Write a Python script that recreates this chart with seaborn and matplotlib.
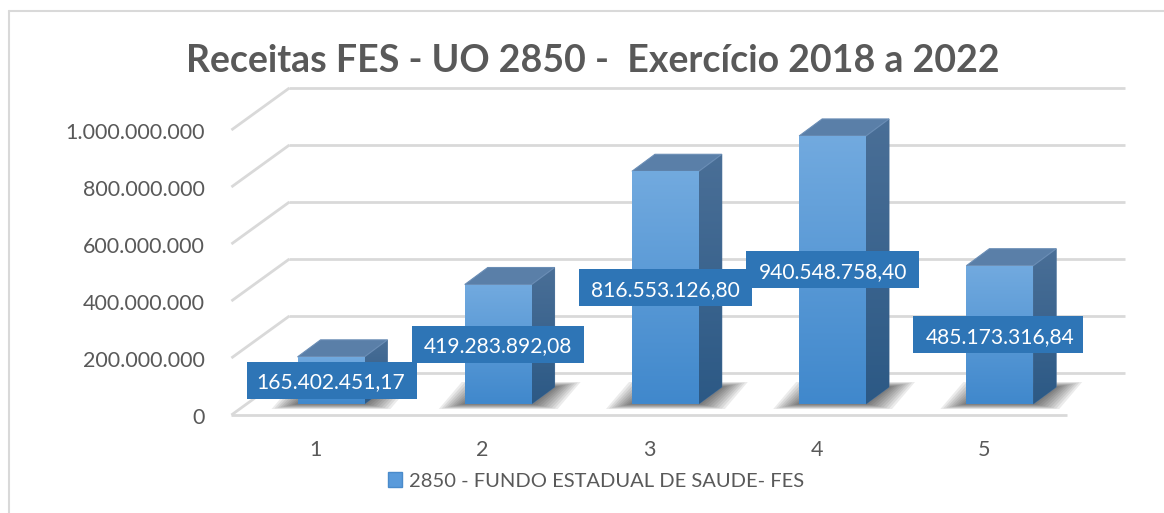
import numpy as np
import pandas as pd
import matplotlib
matplotlib.use("Agg")
import matplotlib.pyplot as plt
import matplotlib.transforms as mtransforms
from matplotlib.patches import Polygon, Patch, Rectangle
from matplotlib.lines import Line2D
from matplotlib.colors import LinearSegmentedColormap
import seaborn as sns

# ---------------- data ----------------
title = "Receitas FES - UO 2850 -  Exercício 2018 a 2022"
series_name = "2850 - FUNDO ESTADUAL DE SAUDE- FES"
categories = ["1", "2", "3", "4", "5"]
values = [165402451.17, 419283892.08, 816553126.80, 940548758.40, 485173316.84]
value_labels = ["165.402.451,17", "419.283.892,08", "816.553.126,80",
                "940.548.758,40", "485.173.316,84"]
y_ticks = [0, 200e6, 400e6, 600e6, 800e6, 1000e6]
y_tick_labels = ["0", "200.000.000", "400.000.000", "600.000.000",
                 "800.000.000", "1.000.000.000"]

# ---------------- style ----------------
W, H, DPI = 1164, 513, 100
sns.set_theme(style="white")
plt.rcParams['font.family'] = ['Lato', 'DejaVu Sans']
TXT = "#595959"
GRID = "#D9D9D9"
LABEL_BG = "#2E75B6"

fig = plt.figure(figsize=(W / DPI, H / DPI), dpi=DPI)
fig.patch.set_facecolor("white")
ax = fig.add_axes([247.4 / W, (H - 404) / H, 836 / W, 285 / H])

df = pd.DataFrame({"cat": categories, "val": values})
sns.barplot(data=df, x="cat", y="val", order=categories, color="#5B9BD5",
            saturation=1, width=0.4, ax=ax, edgecolor="none", linewidth=0)
ax.set_xlim(-0.5, 4.5)
ax.set_ylim(0, 1e9)
ax.axis("off")
if ax.get_legend() is not None:
    ax.get_legend().remove()

renderer = fig.canvas.get_renderer()


def px2data(dx_px, dy_px):
    o = ax.transData.transform((0, 0))
    ux = ax.transData.transform((1, 0))[0] - o[0]
    uy = ax.transData.transform((0, 1))[1] - o[1]
    return dx_px / ux, dy_px / uy


fdx, fdy = px2data(-16, -11)   # front plane of floor
bdx, bdy = px2data(42, 31)     # back wall
ddx, ddy = px2data(23, 17)     # depth of a bar

# ---------------- walls / gridlines ----------------
for v in y_ticks:
    ax.plot([-0.5 + bdx, 4.5 + bdx], [v + bdy, v + bdy], color=GRID, lw=2,
            zorder=0.5, clip_on=False, solid_capstyle="butt")
    ax.plot([-0.5 + fdx, -0.5 + bdx], [v + fdy, v + bdy], color=GRID, lw=2,
            zorder=0.5, clip_on=False, solid_capstyle="butt")
ax.plot([-0.5 + fdx, 4.5 + fdx], [fdy, fdy], color=GRID, lw=2,
        zorder=0.5, clip_on=False, solid_capstyle="butt")

# tick labels
tx, tdy = px2data(-27, -2.5)
for v, lab in zip(y_ticks, y_tick_labels):
    ax.text(-0.5 + fdx + tx, v + fdy + tdy, lab, ha="right", va="center",
            color=TXT, fontsize=15.5, clip_on=False)

# category labels
_, cy = px2data(0, -35)
for i, c in enumerate(categories):
    ax.text(i + fdx, fdy + cy, c, ha="center", va="center", color=TXT,
            fontsize=15.5, clip_on=False)

# ---------------- 3D bars ----------------
front_cmap = LinearSegmentedColormap.from_list("f", ["#4088CC", "#72AADF"])
side_cmap = LinearSegmentedColormap.from_list("s", ["#2C5985", "#4A6F97"])
grad = np.linspace(0, 1, 256).reshape(-1, 1)

bars = list(ax.patches)
for p in bars:
    x0 = p.get_x()
    x1 = x0 + p.get_width()
    h = p.get_height()
    # shadow
    for k in range(9):
        ex, ey = px2data(26 * (1 - k / 9), 5 * (1 - k / 9))
        shp = Polygon([(x0 - ex, -ey), (x1 + ex, -ey),
                       (x1 + ddx + ex, ddy + ey), (x0 + ddx - ex, ddy + ey)],
                      closed=True, facecolor="#1E1E1E", edgecolor="none",
                      alpha=0.085, zorder=0.8, clip_on=False)
        ax.add_patch(shp)
    # side face
    side = Polygon([(x1, 0), (x1 + ddx, ddy), (x1 + ddx, h + ddy), (x1, h)],
                   closed=True, facecolor="#3A6590", edgecolor="#4D739B",
                   lw=0.6, zorder=2.5, clip_on=False)
    ax.add_patch(side)
    im = ax.imshow(grad, cmap=side_cmap, origin="lower", aspect="auto",
                   extent=(x1, x1 + ddx, 0, h + ddy), zorder=2.6,
                   interpolation="bilinear")
    im.set_clip_path(side)
    # top face
    top = Polygon([(x0, h), (x1, h), (x1 + ddx, h + ddy), (x0 + ddx, h + ddy)],
                  closed=True, facecolor="#5A7FA8", edgecolor="#6A8DB5",
                  lw=0.8, zorder=2.7, clip_on=False)
    ax.add_patch(top)
    # front face gradient
    p.set_zorder(3)
    p.set_clip_on(False)
    im2 = ax.imshow(grad, cmap=front_cmap, origin="lower", aspect="auto",
                    extent=(x0, x1, 0, h), zorder=3.1, interpolation="bilinear")
    im2.set_clip_path(p)

ax.set_xlim(-0.5, 4.5)
ax.set_ylim(0, 1e9)

# ---------------- data labels ----------------
_, ldy = px2data(0, -2)
for p, v, lab in zip(bars, values, value_labels):
    xc = p.get_x() + p.get_width() / 2
    t = ax.text(xc, v / 2 + ldy, lab, ha="center", va="center", color="white",
                fontsize=17, zorder=11, clip_on=False)
    bb = t.get_window_extent(renderer=renderer)
    t.set_fontsize(17 * 149 / bb.width)
    bb = t.get_window_extent(renderer=renderer)
    cyp = ax.transData.transform((xc, v / 2))[1]
    rect = Rectangle((bb.x0 - 12, cyp - 18.5), bb.width + 24, 37,
                     transform=mtransforms.IdentityTransform(),
                     facecolor=LABEL_BG, edgecolor="none", zorder=10)
    ax.add_artist(rect)

# ---------------- title ----------------
tt = fig.text(593 / W, 1 - 72.5 / H, title, ha="center", va="baseline",
              color=TXT, fontsize=30, fontweight="bold")
w = tt.get_window_extent(renderer=renderer).width
tt.set_fontsize(30 * 814 / w)

# ---------------- legend ----------------
fig.legend(handles=[Patch(facecolor="#5A9BDB", edgecolor="#4A8BCB")],
           labels=[series_name], loc="center",
           bbox_to_anchor=(596 / W, 1 - 481 / H), frameon=False,
           fontsize=14.5, labelcolor=TXT, handlelength=0.7, handleheight=0.7,
           handletextpad=0.3, borderpad=0)

# ---------------- chart frame ----------------
fig.add_artist(Line2D([8.5 / W, 8.5 / W], [0, 1 - 10.5 / H],
                      transform=fig.transFigure, color=GRID, lw=1.5))
fig.add_artist(Line2D([8.5 / W, 1], [1 - 10.5 / H, 1 - 10.5 / H],
                      transform=fig.transFigure, color=GRID, lw=1.5))

fig.savefig("out.png", dpi=DPI)
